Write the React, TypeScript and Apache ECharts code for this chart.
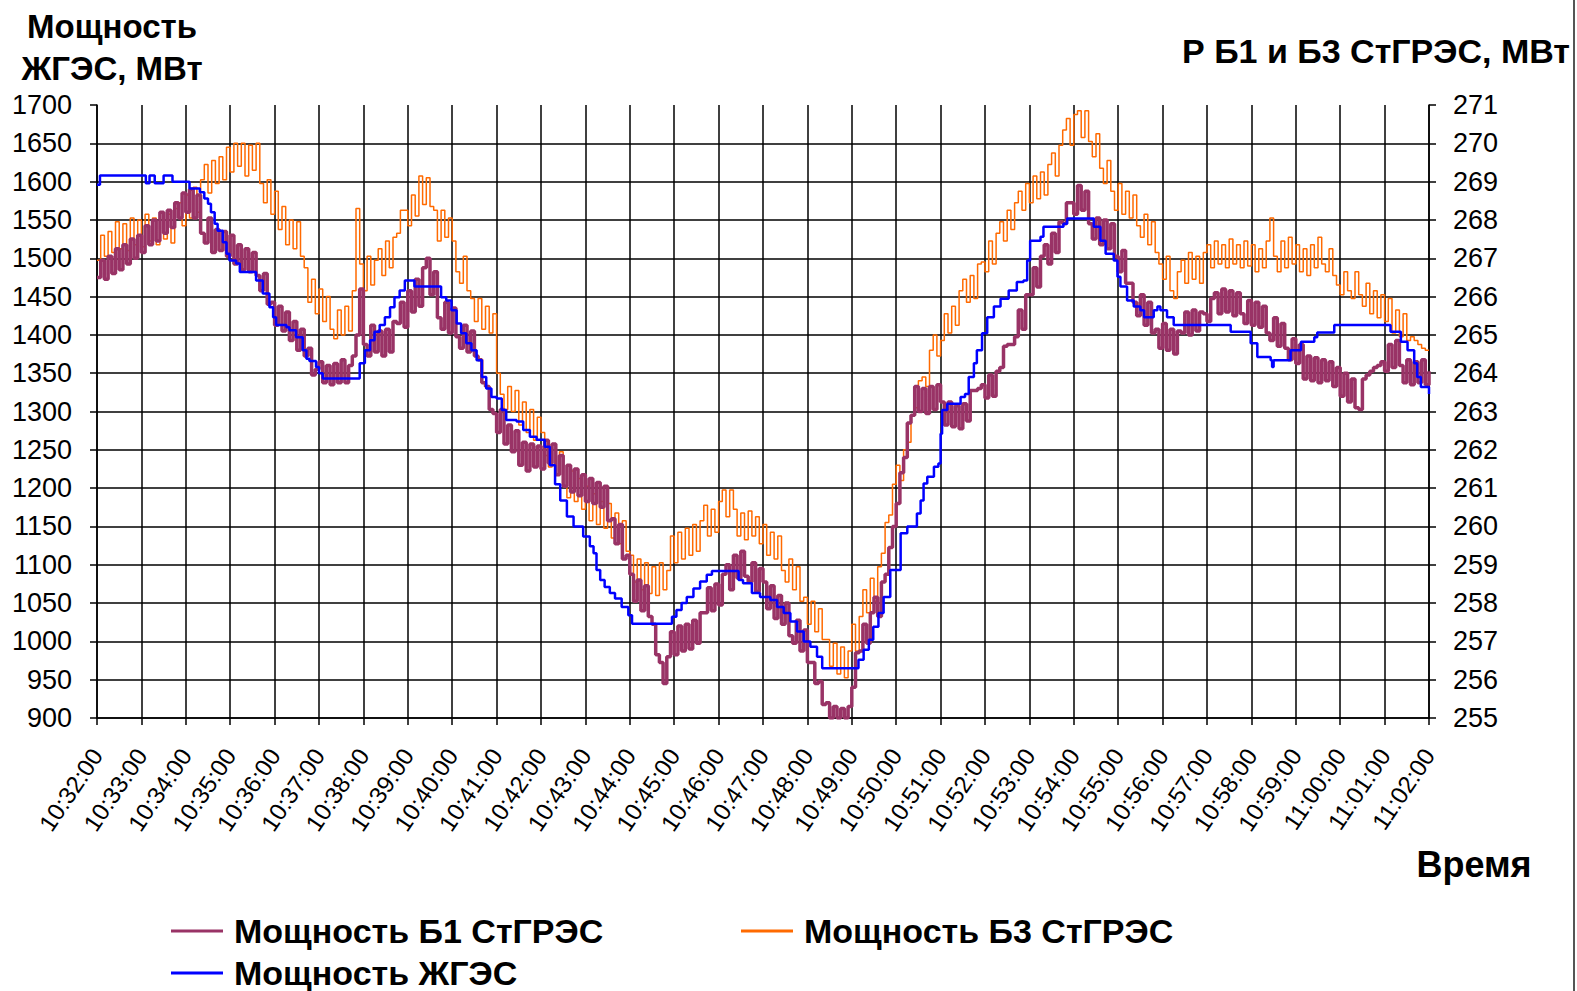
import React, { useEffect, useRef } from 'react';
import * as echarts from 'echarts';

const FONT = "'Liberation Sans', Arial, sans-serif";

// X axis tick labels (one per minute)
const timeLabels = [
  '10:32:00', '10:33:00', '10:34:00', '10:35:00', '10:36:00', '10:37:00', '10:38:00', '10:39:00',
  '10:40:00', '10:41:00', '10:42:00', '10:43:00', '10:44:00', '10:45:00', '10:46:00', '10:47:00',
  '10:48:00', '10:49:00', '10:50:00', '10:51:00', '10:52:00', '10:53:00', '10:54:00', '10:55:00',
  '10:56:00', '10:57:00', '10:58:00', '10:59:00', '11:00:00', '11:01:00', '11:02:00',
];

const seriesNames = ['Мощность Б1 СтГРЭС', 'Мощность Б3 СтГРЭС', 'Мощность ЖГЭС'];

// Б1 and Б3 sampled every 5 s (right axis, MW)
const sampleStepSec = 5;

const b1Values = [
  266.5, 266.95, 266.45, 267.05, 266.6, 267.25, 266.7, 267.35, 266.85, 267.5, 267.0, 267.6,
  267.15, 267.85, 267.35, 268.0, 267.45, 268.2, 267.65, 268.25, 267.8, 268.45, 268.05, 268.7,
  268.2, 268.8, 268.05, 268.65, 267.65, 267.4, 268.05, 267.15, 267.75, 267.2, 267.7, 267.05,
  267.6, 266.85, 267.35, 266.7, 267.25, 266.65, 267.15, 266.55, 266.15, 266.6, 265.8, 265.85,
  265.25, 265.75, 265.1, 265.6, 264.85, 265.35, 264.6, 265.15, 264.45, 264.65, 263.95, 264.1,
  264.3, 263.75, 264.2, 263.7, 264.25, 263.75, 264.35, 263.75, 264.2, 264.45, 265.0, 266.2,
  264.75, 264.45, 265.25, 264.55, 265.1, 264.45, 265.15, 264.55, 265.35, 265.3, 265.85, 265.2,
  266.15, 265.6, 266.45, 265.75, 266.75, 267.0, 266.05, 266.65, 265.45, 265.15, 265.85, 265.05,
  265.7, 264.95, 264.65, 265.25, 264.55, 265.1, 264.45, 264.35, 263.75, 263.65, 263.05, 262.95,
  262.45, 263.05, 262.15, 262.65, 261.95, 262.5, 261.6, 262.2, 261.45, 262.15, 261.55, 262.1,
  261.5, 262.25, 261.65, 262.15, 261.35, 261.85, 261.05, 261.6, 260.9, 261.5, 260.8, 261.35,
  260.65, 261.25, 260.6, 261.15, 260.5, 261.05, 260.15, 260.2, 259.55, 260.05, 259.15, 259.25,
  258.75, 258.05, 258.6, 257.8, 258.45, 257.65, 257.45, 256.65, 256.45, 255.9, 256.6, 257.25,
  256.65, 257.4, 256.75, 257.45, 256.8, 257.55, 256.95, 257.75, 257.75, 258.4, 257.8, 258.5,
  257.95, 258.75, 259.0, 258.35, 259.25, 258.65, 259.35, 258.7, 258.55, 259.05, 258.3, 258.9,
  258.55, 257.85, 258.45, 257.6, 258.2, 257.45, 258.0, 257.15, 256.95, 257.55, 256.75, 257.3,
  256.45, 256.45, 255.9, 255.95, 255.35, 255.4, 255.0, 255.3, 255.0, 255.25, 255.0, 255.3,
  255.8, 256.7, 256.75, 257.45, 256.95, 257.75, 258.15, 257.65, 258.55, 258.75, 259.45, 260.0,
  260.6, 261.4, 261.8, 262.7, 262.9, 263.65, 263.0, 263.6, 262.95, 263.65, 263.05, 263.7,
  263.25, 262.65, 263.25, 262.6, 263.15, 262.55, 263.2, 262.75, 263.55, 263.55, 263.6, 263.7,
  263.35, 263.95, 263.4, 264.05, 264.15, 264.7, 264.75, 264.75, 264.95, 265.65, 265.15, 266.05,
  266.05, 266.75, 266.25, 267.05, 267.35, 266.85, 267.65, 267.15, 267.95, 267.9, 268.45, 268.45,
  268.15, 268.9, 268.25, 268.75, 267.9, 267.5, 268.05, 267.35, 268.0, 267.25, 267.9, 267.05,
  266.65, 267.2, 266.35, 266.35, 265.85, 265.5, 266.05, 265.25, 265.85, 265.05, 265.15, 264.65,
  265.3, 264.6, 265.15, 264.5, 265.1, 265.05, 265.6, 265.0, 265.65, 265.1, 265.6, 265.55,
  265.35, 265.95, 266.1, 265.55, 266.2, 265.6, 266.15, 265.5, 266.1, 265.55, 265.3, 265.9,
  265.25, 265.85, 265.2, 265.75, 265.05, 264.85, 265.45, 264.7, 265.3, 264.65, 264.35, 264.9,
  264.25, 264.75, 263.85, 264.45, 263.8, 264.4, 263.75, 264.35, 263.8, 264.3, 263.65, 264.15,
  263.4, 264.0, 263.25, 263.85, 263.1, 263.05, 263.85, 263.95, 264.05, 264.15, 264.2, 264.3,
  264.05, 264.75, 264.15, 264.85, 264.2, 263.75, 264.35, 263.7, 264.3, 263.75, 264.35, 263.7,
  264.05,
];

const b3Values = [
  266.95, 267.6, 267.05, 267.7, 267.15, 267.95, 267.25, 267.9, 267.2, 268.05, 267.35, 268.0,
  267.3, 268.15, 267.45, 268.05, 267.35, 268.2, 267.5, 268.15, 267.4, 268.3, 268.45, 267.85,
  268.65, 268.05, 268.85, 268.2, 269.05, 269.45, 268.7, 269.55, 268.95, 269.65, 269.05, 269.9,
  269.25, 270.0, 269.4, 270.0, 269.15, 269.95, 269.3, 270.0, 268.95, 268.45, 269.05, 268.15,
  268.75, 267.75, 268.35, 267.35, 268.0, 267.25, 267.95, 267.05, 266.75, 265.85, 266.45, 265.55,
  266.2, 265.35, 266.0, 265.15, 264.9, 265.65, 265.0, 265.75, 265.1, 266.15, 268.3, 266.85,
  266.15, 267.05, 266.3, 266.95, 267.25, 266.55, 267.45, 266.75, 267.55, 267.65, 268.25, 268.25,
  267.85, 268.65, 268.1, 269.15, 268.4, 269.1, 268.35, 268.25, 267.45, 268.25, 267.55, 268.05,
  267.45, 266.65, 266.35, 267.05, 266.15, 265.95, 265.35, 265.95, 265.15, 265.75, 265.05, 265.55,
  264.0, 263.45, 263.05, 263.65, 263.0, 263.55, 262.65, 263.25, 262.45, 263.05, 262.25, 262.85,
  262.45, 261.85, 261.55, 262.15, 261.35, 261.95, 261.05, 260.75, 261.45, 260.65, 261.25, 260.45,
  261.05, 260.15, 260.85, 260.05, 260.65, 259.95, 260.6, 259.7, 260.35, 259.55, 260.15, 259.35,
  259.25, 258.55, 259.15, 258.35, 259.05, 258.25, 258.95, 258.2, 259.05, 258.35, 258.85, 259.75,
  259.05, 259.85, 259.15, 259.95, 259.25, 260.05, 259.35, 260.15, 260.55, 259.75, 260.45, 259.85,
  260.65, 260.95, 260.25, 260.95, 260.45, 259.75, 260.35, 259.65, 260.4, 259.75, 260.25, 259.55,
  260.05, 259.25, 259.85, 259.15, 259.75, 258.85, 258.55, 259.15, 258.35, 258.95, 258.05, 258.15,
  257.45, 258.05, 257.25, 257.85, 257.05, 257.05, 256.35, 256.95, 256.15, 256.85, 256.05, 256.75,
  257.45, 256.75, 257.65, 258.35, 257.75, 258.65, 258.05, 258.95, 259.3, 260.1, 260.3, 261.1,
  261.6, 261.2, 262.0, 262.2, 262.9, 263.1, 263.8, 263.9, 263.65, 264.6, 265.0, 264.45,
  264.85, 265.55, 265.05, 265.75, 265.25, 266.15, 266.45, 265.85, 266.55, 265.95, 266.85, 266.9,
  266.65, 267.45, 266.85, 267.65, 267.95, 267.45, 268.25, 267.75, 268.45, 268.75, 268.25, 268.95,
  268.45, 269.15, 268.55, 269.25, 268.65, 269.45, 269.75, 269.15, 269.95, 270.35, 270.65, 269.95,
  270.75, 270.85, 270.15, 270.85, 270.05, 269.65, 270.25, 269.35, 268.95, 269.55, 268.75, 268.25,
  268.95, 268.15, 268.75, 268.05, 268.65, 267.85, 267.55, 268.15, 267.35, 267.95, 267.15, 266.85,
  266.45, 267.05, 266.15, 265.95, 266.65, 266.95, 266.35, 267.15, 266.45, 267.05, 266.35, 267.15,
  267.35, 266.75, 267.45, 266.85, 267.35, 266.75, 267.5, 266.85, 267.35, 266.75, 267.45, 266.8,
  267.35, 266.65, 267.25, 266.75, 267.45, 268.05, 267.05, 266.65, 267.45, 266.75, 267.55, 266.85,
  267.35, 266.65, 267.25, 266.55, 267.35, 266.75, 267.55, 266.85, 266.65, 267.25, 266.55, 266.3,
  266.05, 266.65, 266.15, 265.95, 266.65, 266.05, 265.75, 266.35, 265.55, 266.15, 265.45, 266.05,
  265.35, 265.95, 265.05, 265.65, 264.95, 265.55, 264.85, 264.95, 264.85, 264.75, 264.65, 264.6,
  264.6,
];

// ЖГЭС step changes: seconds after 10:32:00 and MW (left axis)
const zhgesSec = [
  0, 4, 66, 71, 78, 90, 102, 125, 139, 145,
  150, 154, 159, 163, 170, 175, 179, 188, 193, 215,
  224, 233, 238, 242, 256, 260, 269, 278, 283, 287,
  296, 300, 305, 355, 362, 369, 375, 382, 389, 396,
  402, 409, 416, 429, 465, 472, 479, 486, 492, 499,
  506, 513, 520, 526, 533, 540, 547, 553, 567, 576,
  585, 594, 605, 612, 619, 626, 635, 644, 657, 666,
  671, 675, 680, 686, 693, 700, 709, 718, 723, 777,
  783, 790, 797, 806, 815, 824, 831, 867, 873, 885,
  896, 910, 919, 928, 937, 946, 955, 964, 973, 980,
  1029, 1036, 1043, 1049, 1056, 1063, 1072, 1086, 1095, 1108,
  1113, 1117, 1122, 1131, 1137, 1140, 1142, 1149, 1167, 1173,
  1178, 1185, 1189, 1196, 1203, 1212, 1221, 1232, 1243, 1252,
  1257, 1261, 1275, 1279, 1306, 1311, 1347, 1356, 1363, 1374,
  1379, 1383, 1392, 1401, 1410, 1415, 1428, 1433, 1437, 1446,
  1455, 1532, 1559, 1568, 1586, 1588, 1590, 1613, 1627, 1645,
  1649, 1672, 1748, 1762, 1771, 1780, 1784, 1789, 1800,
];

const zhgesMW = [
  1596, 1608, 1598, 1608, 1598, 1608, 1600, 1591, 1586, 1578,
  1571, 1560, 1545, 1536, 1521, 1506, 1497, 1493, 1482, 1471,
  1454, 1436, 1423, 1413, 1410, 1406, 1397, 1380, 1369, 1366,
  1358, 1350, 1343, 1363, 1380, 1393, 1404, 1413, 1423, 1436,
  1449, 1458, 1471, 1463, 1449, 1445, 1432, 1415, 1402, 1389,
  1380, 1367, 1345, 1330, 1319, 1317, 1302, 1289, 1287, 1276,
  1267, 1263, 1254, 1230, 1205, 1184, 1163, 1150, 1137, 1124,
  1115, 1093, 1080, 1071, 1063, 1056, 1045, 1034, 1023, 1032,
  1041, 1050, 1058, 1069, 1078, 1087, 1092, 1080, 1076, 1063,
  1058, 1054, 1045, 1037, 1026, 1013, 1000, 993, 980, 965,
  976, 989, 1002, 1019, 1037, 1058, 1093, 1141, 1150, 1167,
  1184, 1206, 1215, 1228, 1232, 1271, 1302, 1310, 1319, 1323,
  1345, 1363, 1380, 1402, 1423, 1437, 1447, 1458, 1469, 1471,
  1497, 1523, 1528, 1541, 1545, 1552, 1541, 1523, 1506, 1497,
  1476, 1463, 1445, 1437, 1432, 1423, 1432, 1437, 1432, 1423,
  1413, 1404, 1389, 1371, 1367, 1358, 1367, 1380, 1391, 1397,
  1403, 1413, 1404, 1391, 1380, 1363, 1345, 1332, 1323,
];

const COLOR_B1 = '#993366';
const COLOR_B3 = '#ff6a00';
const COLOR_ZH = '#0000ff';

function textEl(text: string, x: number, y: number, size: number, align: string, bold = true) {
  return {
    type: 'text',
    x,
    y,
    silent: true,
    style: {
      text,
      fill: '#000',
      fontSize: size,
      fontWeight: bold ? 'bold' : 'normal',
      fontFamily: FONT,
      align,
      verticalAlign: 'middle',
      textAlign: align,
      textVerticalAlign: 'middle',
    },
  };
}

export default function App() {
  const ref = useRef<HTMLDivElement>(null);

  useEffect(() => {
    if (!ref.current) return;
    const chart = echarts.init(ref.current, null, { renderer: 'svg' });

    const b1Data = b1Values.map((v, i) => [i * sampleStepSec, v]);
    const b3Data = b3Values.map((v, i) => [i * sampleStepSec, v]);
    const zhData = zhgesSec.map((t, i) => [t, zhgesMW[i]]);

    const axisLineStyle = { color: '#000', width: 1.5 };
    const legendText = { fontSize: 34, fontWeight: 'bold', color: '#000', fontFamily: FONT, padding: [0, 0, 0, 6] };
    const legendCommon = {
      orient: 'horizontal',
      padding: 0,
      icon: 'rect',
      itemWidth: 52,
      itemHeight: 3,
      textStyle: legendText,
      selectedMode: false,
    };

    const option: any = {
      animation: false,
      backgroundColor: '#ffffff',
      textStyle: { fontFamily: FONT },
      grid: { left: 97, right: 148, top: 105, bottom: 273, containLabel: false, outerBoundsMode: 'none' },
      xAxis: {
        type: 'value',
        min: 0,
        max: 1800,
        interval: 60,
        axisLine: { show: true, onZero: false, lineStyle: axisLineStyle },
        axisTick: { show: true, inside: false, length: 7, lineStyle: axisLineStyle },
        axisLabel: {
          rotate: 56,
          margin: 33,
          fontSize: 24,
          color: '#000',
          fontFamily: FONT,
          showMinLabel: true,
          showMaxLabel: true,
          formatter: (v: number) => timeLabels[Math.round(v / 60)] ?? '',
        },
        splitLine: { show: true, lineStyle: axisLineStyle },
      },
      yAxis: [
        {
          type: 'value',
          position: 'left',
          min: 900,
          max: 1700,
          interval: 50,
          axisLine: { show: true, onZero: false, lineStyle: axisLineStyle },
          axisTick: { show: true, inside: false, length: 7, lineStyle: axisLineStyle },
          axisLabel: { fontSize: 27, margin: 25, color: '#000', fontFamily: FONT, formatter: (v: number) => String(v) },
          splitLine: { show: true, showMaxLine: false, lineStyle: axisLineStyle },
        },
        {
          type: 'value',
          position: 'right',
          min: 255,
          max: 271,
          interval: 1,
          axisLine: { show: true, onZero: false, lineStyle: axisLineStyle },
          axisTick: { show: true, inside: false, length: 7, lineStyle: axisLineStyle },
          axisLabel: { fontSize: 27, margin: 24, color: '#000', fontFamily: FONT, formatter: (v: number) => String(v) },
          splitLine: { show: false },
        },
      ],
      legend: [
        { ...legendCommon, data: [seriesNames[0]], left: 171, top: 914 },
        { ...legendCommon, data: [seriesNames[1]], left: 741, top: 914 },
        { ...legendCommon, data: [seriesNames[2]], left: 171, top: 956 },
      ],
      graphic: [
        textEl('Мощность', 112, 26, 33, 'center'),
        textEl('ЖГЭС, МВт', 112, 68, 33, 'center'),
        textEl('Р Б1 и Б3 СтГРЭС, МВт', 1570, 51, 34, 'right'),
        textEl('Время', 1474, 864, 36, 'center'),
        {
          type: 'line',
          silent: true,
          shape: { x1: 1574, y1: 0, x2: 1574, y2: 991 },
          style: { stroke: '#555', lineWidth: 2 },
        },
      ],
      series: [
        {
          name: seriesNames[1],
          type: 'line',
          yAxisIndex: 1,
          step: 'end',
          symbol: 'none',
          showSymbol: false,
          color: COLOR_B3,
          lineStyle: { color: COLOR_B3, width: 1.5 },
          itemStyle: { color: COLOR_B3 },
          data: b3Data,
          z: 2,
        },
        {
          name: seriesNames[0],
          type: 'line',
          yAxisIndex: 1,
          step: 'end',
          symbol: 'none',
          showSymbol: false,
          color: COLOR_B1,
          lineStyle: { color: COLOR_B1, width: 3.5 },
          itemStyle: { color: COLOR_B1 },
          data: b1Data,
          z: 3,
        },
        {
          name: seriesNames[2],
          type: 'line',
          yAxisIndex: 0,
          step: 'end',
          symbol: 'none',
          showSymbol: false,
          color: COLOR_ZH,
          lineStyle: { color: COLOR_ZH, width: 2.5 },
          itemStyle: { color: COLOR_ZH },
          data: zhData,
          z: 4,
        },
      ],
    };

    chart.setOption(option);
    return () => chart.dispose();
  }, []);

  return (
    <div
      ref={ref}
      style={{ position: 'fixed', left: 0, top: 0, width: 1577, height: 991, background: '#fff' }}
    />
  );
}
